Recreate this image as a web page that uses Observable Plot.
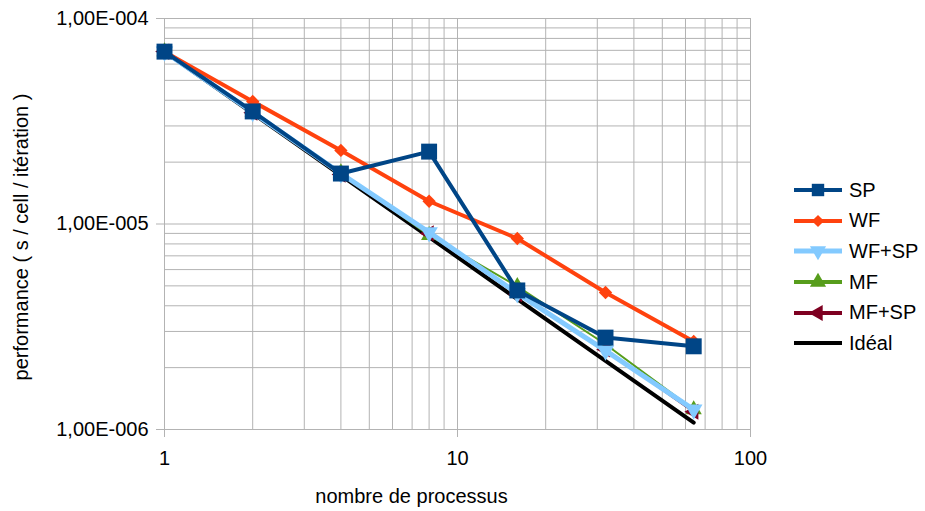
<!DOCTYPE html>
<html>
<head>
<meta charset="utf-8">
<script src="https://cdn.jsdelivr.net/npm/d3@7"></script>
<script src="https://cdn.jsdelivr.net/npm/@observablehq/plot@0.6"></script>
<style>
  html, body { margin: 0; padding: 0; background: #fff; }
  #wrap { position: relative; width: 925px; height: 511px; font-family: "Liberation Sans", Arial, sans-serif; }
  #legend { position: absolute; left: 794px; top: 175px; font-size: 20px; color: #000; }
  .row { display: flex; align-items: center; height: 30.6px; }
  .row svg { margin-right: 7px; }
</style>
</head>
<body>
<div id="wrap"><div id="chart"></div><div id="legend"></div></div>
<script>
const procs = [1, 2, 4, 8, 16, 32, 64];
const sp    = [6.9e-5, 3.53e-5, 1.76e-5, 2.25e-5, 4.75e-6, 2.80e-6, 2.54e-6];
const wf    = [6.9e-5, 3.95e-5, 2.28e-5, 1.29e-5, 8.5e-6, 4.64e-6, 2.68e-6];
const wfsp  = [6.9e-5, 3.5e-5, 1.76e-5, 9.1e-6, 4.6e-6, 2.42e-6, 1.25e-6];
const mf    = [6.9e-5, 3.5e-5, 1.78e-5, 8.8e-6, 4.97e-6, 2.6e-6, 1.25e-6];
const mfsp  = [6.9e-5, 3.48e-5, 1.74e-5, 9.0e-6, 4.55e-6, 2.45e-6, 1.22e-6];
const ideal = [6.9e-5, 3.45e-5, 1.725e-5, 8.63e-6, 4.31e-6, 2.16e-6, 1.08e-6];

const xTicks = [1, 10, 100];
const yTicks = [1e-6, 1e-5, 1e-4];
const xGrid = [1,2,3,4,5,6,7,8,9,10,20,30,40,50,60,70,80,90,100];
const yGrid = [1e-6,2e-6,3e-6,4e-6,5e-6,6e-6,7e-6,8e-6,9e-6,1e-5,2e-5,3e-5,4e-5,5e-5,6e-5,7e-5,8e-5,9e-5,1e-4];

const series = [
  {name: "SP",    values: sp,    color: "#004586", width: 4,   symbol: "square",   r: 9,   rotate: 0},
  {name: "WF",    values: wf,    color: "#ff420e", width: 4,   symbol: "diamond2", r: 6,   rotate: 0},
  {name: "WF+SP", values: wfsp,  color: "#83caff", width: 5,   symbol: "triangle", r: 6.5, rotate: 180},
  {name: "MF",    values: mf,    color: "#579d1c", width: 2,   symbol: "triangle", r: 6,   rotate: 0},
  {name: "MF+SP", values: mfsp,  color: "#7e0021", width: 2.5, symbol: "triangle", r: 6,   rotate: -90},
  {name: "Idéal", values: ideal, color: "#000000", width: 4,   symbol: null}
];
// drawing order (bottom to top)
const drawOrder = ["Idéal", "MF", "MF+SP", "WF+SP", "WF", "SP"];

const fmtY = d => "1,00E-" + String(-Math.round(Math.log10(d))).padStart(3, "0");

const marks = [
  Plot.ruleX(xGrid, {stroke: "#b3b3b3", strokeWidth: 1}),
  Plot.ruleY(yGrid, {stroke: "#b3b3b3", strokeWidth: 1}),
  Plot.axisX(xTicks, {tickSize: 8, tickPadding: 13, stroke: "#b3b3b3", fontSize: 20, label: null, tickFormat: d => String(d)}),
  Plot.axisY(yTicks, {tickSize: 8, tickPadding: 8, stroke: "#b3b3b3", fontSize: 20, label: null, tickFormat: fmtY}),
  Plot.text(["nombre de processus"], {frameAnchor: "bottom", textAnchor: "middle", lineAnchor: "middle", dx: -46, dy: 67, fontSize: 20, fill: "#000"}),
  Plot.text(["performance ( s / cell / itération )"], {frameAnchor: "left", textAnchor: "middle", lineAnchor: "middle", rotate: -90, dx: -143, dy: 13, fontSize: 20, fill: "#000"})
];

for (const name of drawOrder) {
  const s = series.find(d => d.name === name);
  const data = procs.map((p, i) => ({x: p, y: s.values[i]}));
  marks.push(Plot.line(data, {x: "x", y: "y", stroke: s.color, strokeWidth: s.width, strokeLinejoin: "round"}));
  if (s.symbol) marks.push(Plot.dot(data, {x: "x", y: "y", symbol: s.symbol, r: s.r, fill: s.color, stroke: "none", rotate: s.rotate}));
}

const chart = Plot.plot({
  width: 925, height: 511,
  marginLeft: 164, marginRight: 175, marginTop: 18, marginBottom: 82,
  style: {fontFamily: "'Liberation Sans', Arial, sans-serif", fontSize: "20px", color: "#000", background: "#fff"},
  x: {type: "log", domain: [1, 100], axis: null},
  y: {type: "log", domain: [1e-6, 1e-4], axis: null},
  marks
});
document.getElementById("chart").appendChild(chart);

// legend
const legend = document.getElementById("legend");
const symPath = {
  square: d3.symbol(d3.symbolSquare, Math.PI * 7 * 7)(),
  diamond2: d3.symbol(d3.symbolDiamond2, Math.PI * 5.5 * 5.5)(),
  triangle: d3.symbol(d3.symbolTriangle, Math.PI * 6 * 6)()
};
for (const s of series) {
  const row = document.createElement("div");
  row.className = "row";
  let inner = `<line x1="0" x2="48" y1="10" y2="10" stroke="${s.color}" stroke-width="${Math.max(s.width, 4)}"/>`;
  if (s.symbol) inner += `<path d="${symPath[s.symbol]}" fill="${s.color}" transform="translate(24,10) rotate(${s.rotate})"/>`;
  row.innerHTML = `<svg width="48" height="20">${inner}</svg><span>${s.name}</span>`;
  legend.appendChild(row);
}
</script>
</body>
</html>
